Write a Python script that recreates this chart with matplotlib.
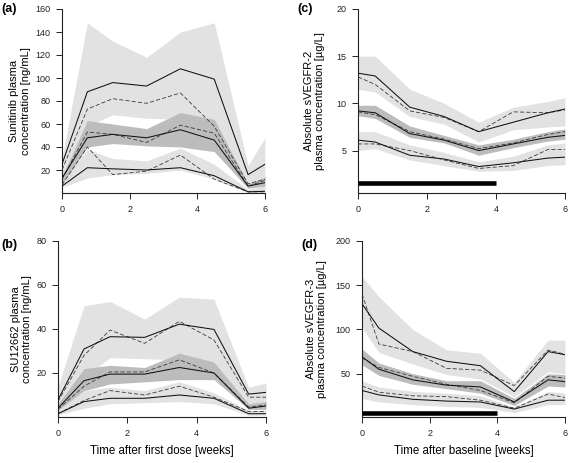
import matplotlib.pyplot as plt

plt.rcParams["font.family"] = ["Liberation Sans", "DejaVu Sans"]

W, H = 568, 463

# sampling times (weeks)
t_pk = [0, 0.75, 1.5, 2.5, 3.5, 4.5, 5.5, 6]
t_bio = [0, 0.5, 1.5, 2.5, 3.5, 4.5, 5.5, 6]

# (a) sunitinib [ng/mL]
a_hi_band = ([10, 58, 68, 65, 64, 62, 8, 12], [30, 148, 132, 118, 140, 148, 24, 48])
a_med_band = ([8, 40, 43, 41, 40, 36, 4, 6], [14, 63, 60, 56, 70, 64, 8, 14])
a_lo_band = ([5, 13, 16, 17, 20, 12, 0.5, 0.5], [10, 38, 30, 28, 39, 25, 3, 6])
a_solid = [[25, 88, 96, 93, 108, 99, 16, 25],
           [13, 48, 51, 48, 55, 46, 6, 9],
           [6, 22, 21, 20, 22, 15, 1, 1.5]]
a_dashed = [[20, 73, 82, 78, 87, 58, 8, 12],
            [12, 53, 51, 44, 59, 52, 6, 11],
            [7, 40, 16, 19, 33, 12, 1, 1]]

# (b) SU12662 [ng/mL]
b_hi_band = ([4, 18, 27, 26.5, 26, 25, 6, 6], [14, 50.5, 52.5, 44.5, 54.5, 53.5, 13.5, 15.5])
b_med_band = ([3, 12, 15, 16, 17, 17, 3.5, 3.5], [6, 22, 23.5, 22.5, 29, 25, 6, 7])
b_lo_band = ([1, 4, 6, 6.5, 7, 6, 0.8, 0.8], [3, 12, 13.5, 12, 16, 11, 3, 3])
b_solid = [[7.8, 30.9, 36.5, 36.2, 42.2, 39.8, 10.4, 11.2],
           [4, 16.5, 19.5, 19.5, 22.5, 20, 4, 5],
           [1.5, 7, 8.5, 8.5, 10, 8.5, 1.5, 1.5]]
b_dashed = [[7, 28, 39.5, 33.5, 43.5, 35, 9, 9],
            [3.5, 14, 20.5, 20.5, 26, 20, 4.5, 5.5],
            [1.5, 7.5, 12, 10, 14, 9, 2.5, 2.5]]

# (c) sVEGFR-2 [ug/L]
c_hi_band = ([11.5, 11.2, 8.6, 7.8, 5.9, 7.2, 7.5, 7.6], [15, 15, 11.5, 10, 8.0, 9.6, 10.2, 10.6])
c_med_band = ([8.7, 8.4, 6.4, 5.8, 4.5, 5.3, 6.0, 6.2], [9.8, 9.8, 7.6, 6.6, 5.6, 6.2, 7.0, 7.3])
c_lo_band = ([5.0, 5.2, 4.0, 3.4, 2.8, 2.9, 3.4, 3.5], [7.0, 7.0, 5.6, 4.8, 3.8, 4.4, 5.6, 5.8])
c_solid = [[13.2, 12.9, 9.6, 8.6, 7.0, 8.0, 9.0, 9.4],
           [9.2, 9.0, 6.8, 6.1, 5.0, 5.7, 6.4, 6.6],
           [6.1, 5.9, 4.5, 4.1, 3.3, 3.7, 4.2, 4.3]]
c_dashed = [[12.8, 12.0, 9.2, 8.5, 7.0, 9.1, 9.0, 9.3],
            [9.1, 8.8, 7.0, 6.2, 5.2, 5.8, 6.7, 7.0],
            [5.7, 5.7, 5.0, 4.0, 3.1, 3.4, 5.1, 5.1]]

# (d) sVEGFR-3 [ug/L]
d_hi_band = ([102, 74, 61, 49, 44, 24, 52, 50], [160, 137, 100, 77, 73, 40, 88, 88])
d_med_band = ([60, 48, 38, 33, 28, 14, 36, 35], [78, 62, 50, 42, 42, 22, 50, 49])
d_lo_band = ([22, 18, 15, 13, 12, 6, 15, 15], [42, 35, 30, 28, 25, 12, 30, 28])
d_solid = [[129, 101.5, 75, 64, 59, 29.7, 75, 71.4],
           [69, 55, 43, 37, 35, 18, 43, 41],
           [31, 26, 21, 19, 18, 10, 20, 20]]
d_dashed = [[140, 83.5, 75, 56, 54, 36.5, 76.7, 72],
            [68, 57, 47, 38, 31, 17, 47, 45],
            [36, 29, 25, 24, 20, 11, 27, 23]]

# treatment period bar (weeks)
treat_period = [0, 4]

LIGHT = "#e2e2e2"
DARK = "#bcbcbc"


def px_axes(fig, left, top, right, bottom):
    return fig.add_axes([left / W, 1 - bottom / H, (right - left) / W, (bottom - top) / H])


def vpc(ax, t, bands, solid, dashed, ylim, yticks, ylabel, ylab_x, bar_y=None):
    hi, med, lo = bands
    ax.fill_between(t, hi[0], hi[1], color=LIGHT, lw=0, zorder=1)
    ax.fill_between(t, lo[0], lo[1], color=LIGHT, lw=0, zorder=1)
    ax.fill_between(t, med[0], med[1], color=DARK, lw=0, zorder=2)
    for vals in dashed:
        ax.plot(t, vals, color="#3a3a3a", lw=0.6, dashes=(5, 2.5), zorder=3)
    for vals in solid:
        ax.plot(t, vals, color="#111111", lw=0.75, zorder=4)
    if bar_y is not None:
        ax.plot(treat_period, [bar_y, bar_y], color="black", lw=3.3,
                solid_capstyle="butt", zorder=5)

    ax.set_xlim(0, 6)
    ax.set_ylim(*ylim)
    ax.set_xticks([0, 2, 4, 6])
    ax.set_yticks(yticks)
    for s in ["top", "right"]:
        ax.spines[s].set_visible(False)
    for s in ["left", "bottom"]:
        ax.spines[s].set_linewidth(0.8)
        ax.spines[s].set_color("#222222")
    ax.tick_params(labelsize=6.5, length=4.3, width=0.7, pad=4, colors="#222222")
    ax.set_ylabel(ylabel, fontsize=8, linespacing=1.15)
    ax.yaxis.set_label_coords(ylab_x, 0.5)


fig = plt.figure(figsize=(W / 100, H / 100), dpi=100)

ax_a = px_axes(fig, 62, 9, 265, 193)
vpc(ax_a, t_pk, (a_hi_band, a_med_band, a_lo_band), a_solid, a_dashed,
    (0, 160), [20, 40, 60, 80, 100, 120, 140, 160],
    "Sunitinib plasma\nconcentration [ng/mL]", -0.155)

ax_c = px_axes(fig, 358, 9, 565, 193)
vpc(ax_c, t_bio, (c_hi_band, c_med_band, c_lo_band), c_solid, c_dashed,
    (0.5, 20), [5, 10, 15, 20],
    "Absolute sVEGFR-2\nplasma concentration [µg/L]", -0.16, bar_y=1.6)

ax_b = px_axes(fig, 58, 241, 266, 417)
vpc(ax_b, t_pk, (b_hi_band, b_med_band, b_lo_band), b_solid, b_dashed,
    (0, 80), [20, 40, 60, 80],
    "SU12662 plasma\nconcentration [ng/mL]", -0.125)
ax_b.set_xlabel("Time after first dose [weeks]", fontsize=8.3, labelpad=5.5)

ax_d = px_axes(fig, 362, 241, 565, 417)
vpc(ax_d, t_bio, (d_hi_band, d_med_band, d_lo_band), d_solid, d_dashed,
    (1, 200), [50, 100, 150, 200],
    "Absolute sVEGFR-3\nplasma concentration [µg/L]", -0.17, bar_y=5.3)
ax_d.set_xlabel("Time after baseline [weeks]", fontsize=8.3, labelpad=5.5)

# panel letters
for letter, x, y in [("(a)", 1, 9), ("(c)", 297, 9), ("(b)", 1, 245), ("(d)", 301, 245)]:
    fig.text(x / W, 1 - y / H, letter, fontsize=9, fontweight="bold", va="center", ha="left")

fig.savefig("out.png", dpi=100)
